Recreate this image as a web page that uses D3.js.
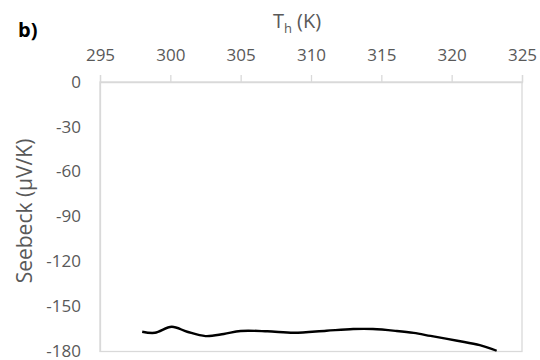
<!DOCTYPE html>
<html>
<head>
<meta charset="utf-8">
<script src="https://cdn.jsdelivr.net/npm/d3@7"></script>
<style>
  body { margin: 0; background: #fff; }
  text { font-family: "Open Sans", sans-serif; }
</style>
</head>
<body>
<script>
// Th (K) vs Seebeck (uV/K)
var temps = [298.0, 298.9, 300.1, 301.2, 302.5, 303.8, 305.0, 306.9, 308.8, 311.1, 313.0, 314.4, 316.1, 317.3, 318.5, 320.4, 322.0, 323.2];
var seebeck = [-166.8, -167.5, -163.5, -166.8, -169.7, -168.3, -166.3, -166.5, -167.5, -166.1, -165.0, -165.0, -166.3, -167.6, -169.6, -172.8, -175.7, -179.5];
var xTicks = [295, 300, 305, 310, 315, 320, 325];
var yTicks = [0, -30, -60, -90, -120, -150, -180];

var w = 540,
    h = 360,
    padL = 100, padR = 522, padT = 82, padB = 351.5;

var svg = d3.select("body")
  .append("svg")
  .attr("width", w)
  .attr("height", h);

var x = d3.scaleLinear().domain([295, 325]).range([padL, padR]);
var y = d3.scaleLinear().domain([0, -180]).range([padT, padB]);

// plain hyphen for negatives, like the original
var fmt = function (d) { return String(d); };

// frame
svg.append("rect")
  .attr("x", padL)
  .attr("y", padT)
  .attr("width", padR - padL)
  .attr("height", padB - padT)
  .attr("fill", "none")
  .attr("stroke", "#d9d9d9")
  .attr("stroke-width", 1.3);

var xAxis = svg.append("g")
  .attr("transform", "translate(0," + padT + ")")
  .call(d3.axisTop(x).tickValues(xTicks).tickFormat(fmt).tickSize(7).tickPadding(14));
xAxis.select(".domain").attr("stroke", "#d9d9d9").attr("stroke-width", 1.3);
xAxis.selectAll(".tick line").attr("stroke", "#d9d9d9").attr("stroke-width", 1.3);
xAxis.selectAll(".tick text")
  .attr("fill", "#595959")
  .style("font-size", "17px")
  .style("font-family", "Open Sans, sans-serif");

var yAxis = svg.append("g")
  .attr("transform", "translate(" + padL + ",0)")
  .call(d3.axisLeft(y).tickValues(yTicks).tickFormat(fmt).tickSize(0).tickPadding(19));
yAxis.select(".domain").attr("stroke", "#d9d9d9").attr("stroke-width", 1.3);
yAxis.selectAll(".tick text")
  .attr("fill", "#595959")
  .attr("dy", "0.3em")
  .style("font-size", "17px")
  .style("font-family", "Open Sans, sans-serif");

var pts = temps.map(function (t, i) { return [t, seebeck[i]]; });

var line = d3.line()
  .x(function (d) { return x(d[0]); })
  .y(function (d) { return y(d[1]); })
  .curve(d3.curveCatmullRom);

svg.append("path")
  .datum(pts)
  .attr("d", line)
  .attr("fill", "none")
  .attr("stroke", "#000")
  .attr("stroke-width", 2.4);

// titles
var xt = svg.append("text")
  .attr("x", 297)
  .attr("y", 28)
  .attr("text-anchor", "middle")
  .attr("fill", "#595959")
  .style("font-size", "20px");
xt.append("tspan").text("T");
xt.append("tspan").attr("dy", 5).style("font-size", "13px").text("h");
xt.append("tspan").attr("dy", -5).text(" (K)");

svg.append("text")
  .attr("transform", "translate(32,211) rotate(-90)")
  .attr("text-anchor", "middle")
  .attr("fill", "#595959")
  .style("font-size", "21px")
  .text("Seebeck (µV/K)");

svg.append("text")
  .attr("x", 18)
  .attr("y", 37)
  .attr("fill", "#000")
  .style("font-size", "20px")
  .style("font-weight", "bold")
  .text("b)");
</script>
</body>
</html>
